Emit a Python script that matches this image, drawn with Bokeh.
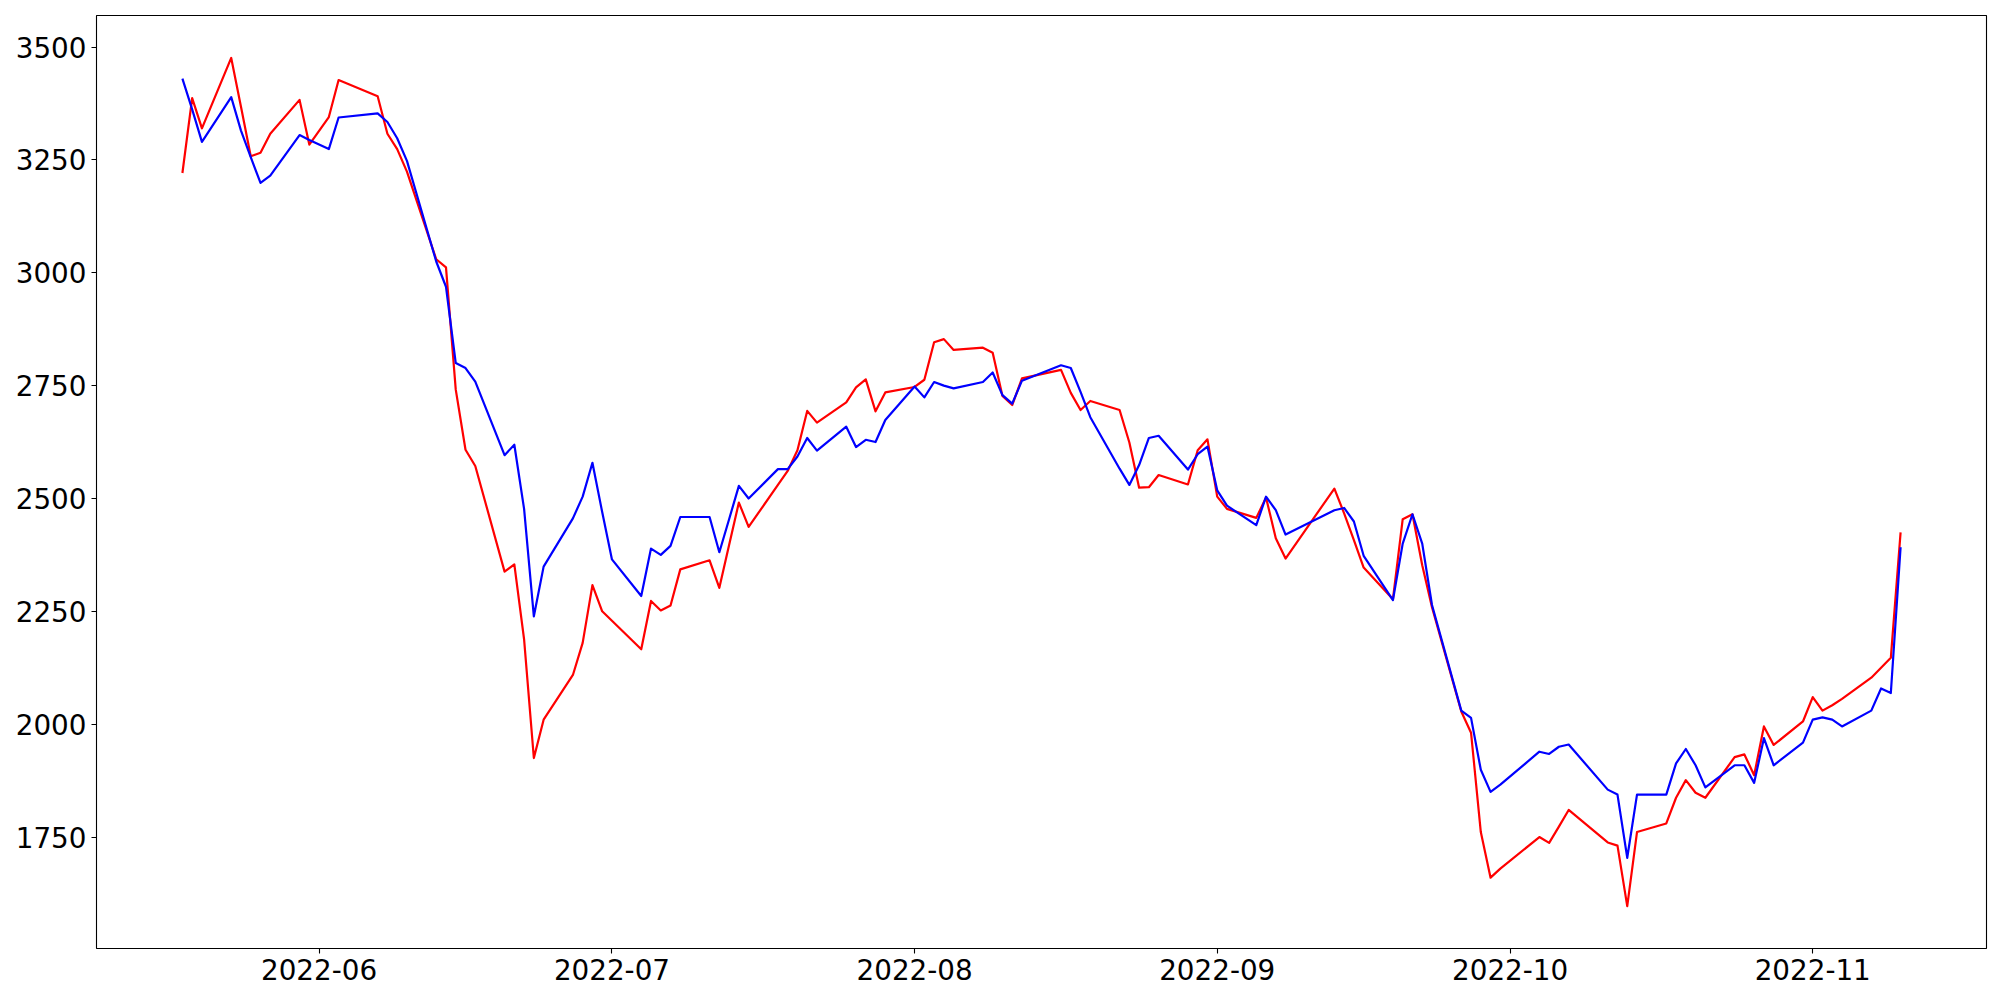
import pandas as pd
from bokeh.plotting import figure
from bokeh.models import Range1d, FixedTicker, DatetimeTickFormatter
from bokeh.embed import file_html
from bokeh.resources import INLINE

dates = [
    "2022-05-18", "2022-05-19", "2022-05-20", "2022-05-23", "2022-05-24", "2022-05-25", "2022-05-26", "2022-05-27", "2022-05-30", "2022-05-31",
    "2022-06-02", "2022-06-03", "2022-06-07", "2022-06-08", "2022-06-09", "2022-06-10", "2022-06-13", "2022-06-14", "2022-06-15", "2022-06-16",
    "2022-06-17", "2022-06-20", "2022-06-21", "2022-06-22", "2022-06-23", "2022-06-24", "2022-06-27", "2022-06-28", "2022-06-29", "2022-06-30",
    "2022-07-01", "2022-07-04", "2022-07-05", "2022-07-06", "2022-07-07", "2022-07-08", "2022-07-11", "2022-07-12", "2022-07-13", "2022-07-14",
    "2022-07-15", "2022-07-18", "2022-07-19", "2022-07-20", "2022-07-21", "2022-07-22", "2022-07-25", "2022-07-26", "2022-07-27", "2022-07-28",
    "2022-07-29",
    "2022-08-01", "2022-08-02", "2022-08-03", "2022-08-04", "2022-08-05", "2022-08-08", "2022-08-09", "2022-08-10", "2022-08-11", "2022-08-12",
    "2022-08-16", "2022-08-17", "2022-08-18", "2022-08-19", "2022-08-22", "2022-08-23", "2022-08-24", "2022-08-25", "2022-08-26", "2022-08-29",
    "2022-08-30", "2022-08-31",
    "2022-09-01", "2022-09-02", "2022-09-05", "2022-09-06", "2022-09-07", "2022-09-08", "2022-09-13", "2022-09-14", "2022-09-15", "2022-09-16",
    "2022-09-19", "2022-09-20", "2022-09-21", "2022-09-22", "2022-09-23", "2022-09-26", "2022-09-27", "2022-09-28", "2022-09-29", "2022-09-30",
    "2022-10-04", "2022-10-05", "2022-10-06", "2022-10-07", "2022-10-11", "2022-10-12", "2022-10-13", "2022-10-14", "2022-10-17", "2022-10-18",
    "2022-10-19", "2022-10-20", "2022-10-21", "2022-10-24", "2022-10-25", "2022-10-26", "2022-10-27", "2022-10-28", "2022-10-31",
    "2022-11-01", "2022-11-02", "2022-11-03", "2022-11-04", "2022-11-07", "2022-11-08", "2022-11-09", "2022-11-10",
]

red_values = [
    3221, 3387, 3320, 3476, 3368, 3258, 3266, 3308, 3383, 3284,
    3345, 3427, 3391, 3308, 3274, 3224, 3030, 3012, 2741, 2608,
    2572, 2338, 2354, 2188, 1925, 2010, 2109, 2180, 2308, 2250,
    2229, 2166, 2273, 2252, 2263, 2343, 2363, 2302, 2397, 2491,
    2437, 2530, 2561, 2607, 2694, 2668, 2713, 2746, 2764, 2693,
    2735,
    2747, 2763, 2846, 2853, 2829, 2834, 2823, 2727, 2707, 2766,
    2785, 2734, 2696, 2716, 2696, 2624, 2524, 2525, 2552, 2531,
    2607, 2631,
    2504, 2477, 2457, 2502, 2412, 2367, 2522, 2467, 2408, 2347,
    2277, 2454, 2465, 2352, 2259, 2028, 1981, 1761, 1660, 1680,
    1750, 1737, 1773, 1810, 1738, 1731, 1597, 1761, 1780, 1837,
    1876, 1848, 1837, 1927, 1933, 1887, 1995, 1954, 2006,
    2060, 2030, 2042, 2056, 2103, 2125, 2147, 2425,
]

blue_values = [
    3430, 3362, 3290, 3389, 3315, 3256, 3199, 3215, 3305, 3294,
    3274, 3344, 3353, 3334, 3298, 3248, 3025, 2969, 2800, 2789,
    2759, 2596, 2619, 2477, 2239, 2349, 2456, 2504, 2579, 2470,
    2365, 2284, 2389, 2375, 2395, 2459, 2459, 2381, 2454, 2528,
    2500, 2565, 2565, 2593, 2634, 2606, 2659, 2614, 2630, 2625,
    2674,
    2748, 2724, 2758, 2750, 2744, 2758, 2779, 2729, 2710, 2761,
    2795, 2789, 2736, 2680, 2566, 2530, 2574, 2634, 2639, 2564,
    2598, 2615,
    2518, 2484, 2441, 2504, 2474, 2420, 2474, 2479, 2449, 2373,
    2275, 2400, 2465, 2400, 2264, 2030, 2014, 1899, 1850, 1866,
    1939, 1934, 1950, 1955, 1855, 1844, 1704, 1844, 1844, 1913,
    1945, 1909, 1860, 1909, 1909, 1870, 1969, 1909, 1959,
    2010, 2015, 2010, 1995, 2030, 2079, 2069, 2392,
]

x_ticks = ["2022-06-01", "2022-07-01", "2022-08-01", "2022-09-01", "2022-10-01", "2022-11-01"]
y_ticks = [1750, 2000, 2250, 2500, 2750, 3000, 3250, 3500]

x = pd.to_datetime(dates)
x0, x1 = x.min(), x.max()
span = x1 - x0
xpad = span * 0.05
ymin, ymax = min(min(red_values), min(blue_values)), max(max(red_values), max(blue_values))
ypad = (ymax - ymin) * 0.05

p = figure(
    width=1992, height=992,
    x_axis_type="datetime",
    output_backend="svg", toolbar_location=None,
    x_range=Range1d(x0 - xpad, x1 + xpad),
    y_range=Range1d(ymin - ypad, ymax + ypad),
    min_border_left=96, min_border_right=6, min_border_top=15, min_border_bottom=44,
)

p.line(x, red_values, line_color="#ff0000", line_width=2.2, line_join="round")
p.line(x, blue_values, line_color="#0000ff", line_width=2.2, line_join="round")

p.xgrid.visible = False
p.ygrid.visible = False
p.outline_line_color = "black"
p.outline_line_width = 1.1
p.outline_line_alpha = 1.0

tick_ms = [pd.Timestamp(t).value / 1e6 for t in x_ticks]
p.xaxis.ticker = FixedTicker(ticks=tick_ms)
p.xaxis.formatter = DatetimeTickFormatter(days="%Y-%m", months="%Y-%m", years="%Y-%m")
p.yaxis.ticker = FixedTicker(ticks=y_ticks)

for ax in (p.xaxis, p.yaxis):
    ax.axis_line_color = None
    ax.major_tick_line_color = "black"
    ax.major_tick_line_width = 1.1
    ax.major_tick_out = 5
    ax.major_tick_in = 0
    ax.minor_tick_line_color = None
    ax.major_label_text_font = "DejaVu Sans"
    ax.major_label_text_font_size = "27.8px"
    ax.major_label_text_color = "black"
    ax.major_label_standoff = 5

open("out.html", "w").write(file_html(p, INLINE))
